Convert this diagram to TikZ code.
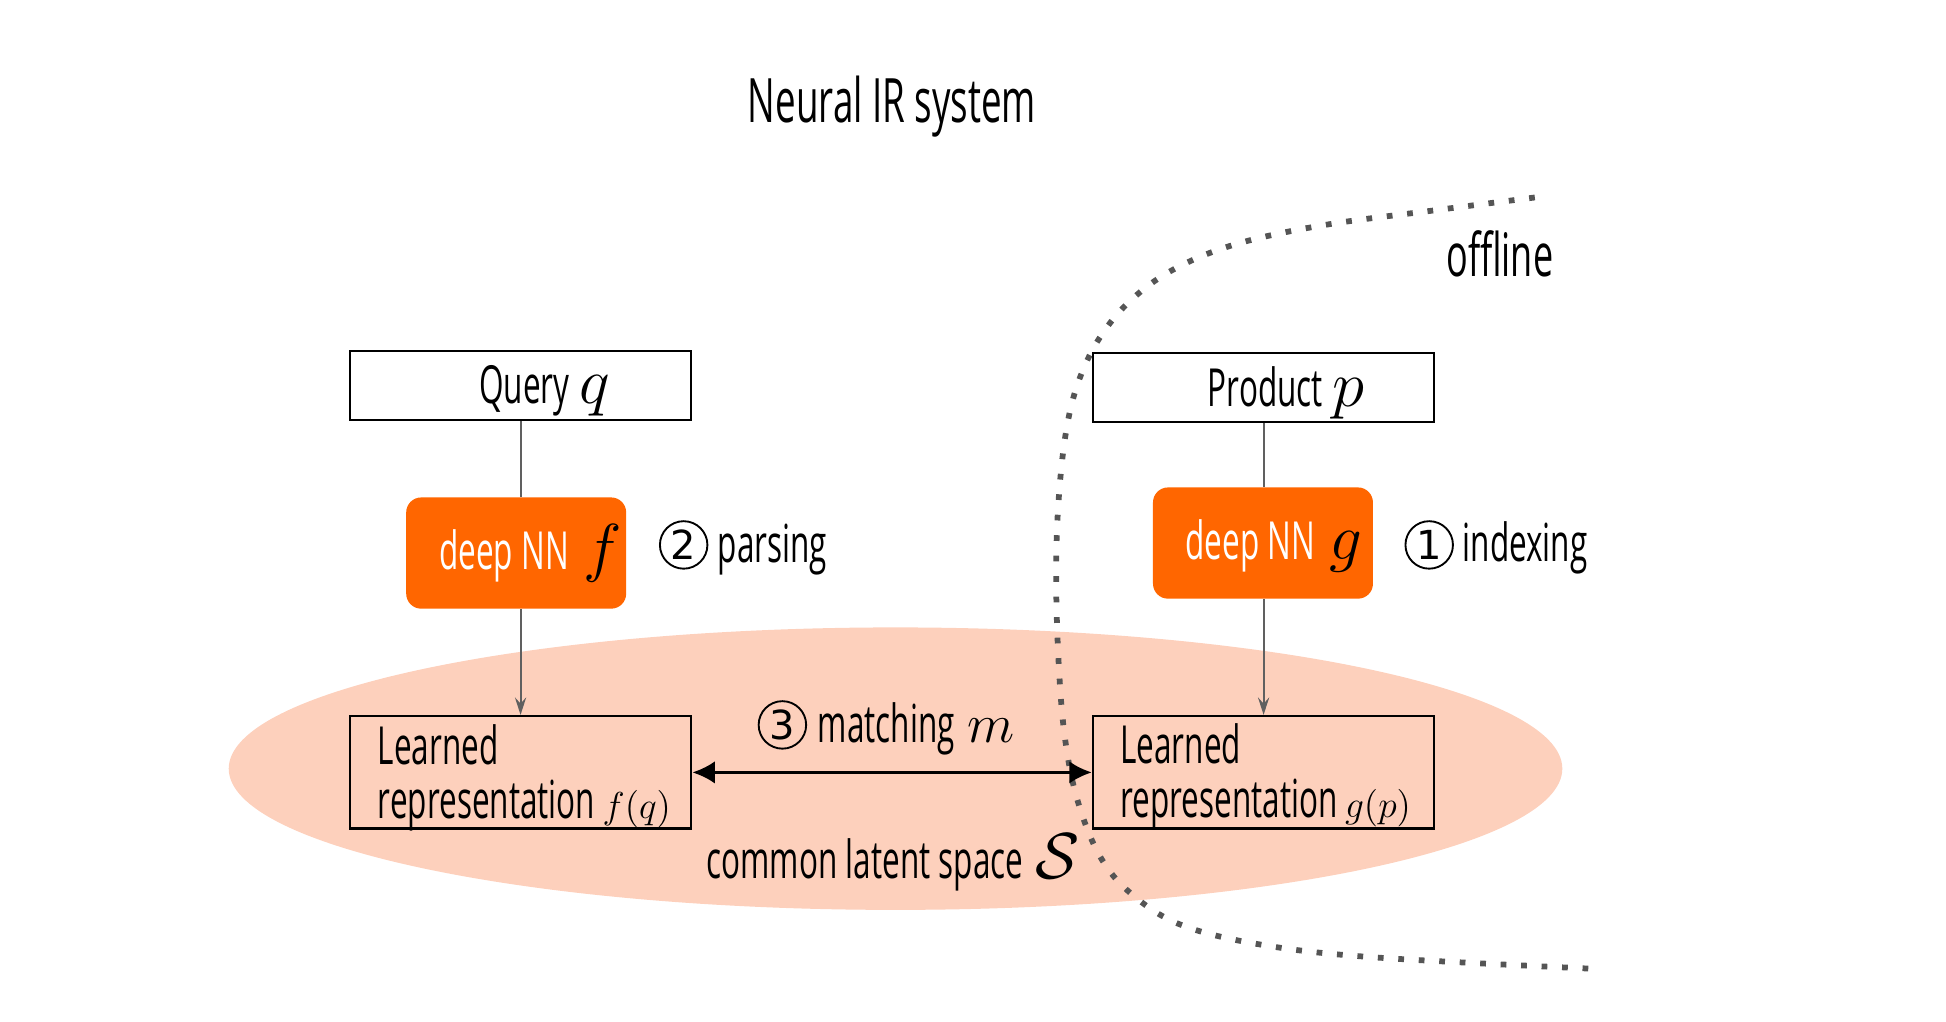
\RequirePackage{fix-cm}
\documentclass[tikz,border=0pt]{standalone}
\usepackage[no-math]{fontspec}
\setmainfont{Open Sans}[FakeStretch=0.6]
\newfontfamily\circfont{DejaVu Sans}
\usetikzlibrary{arrows.meta,shapes.geometric}
\definecolor{nnorange}{RGB}{255,102,0}
\definecolor{peach}{RGB}{253,208,188}
\definecolor{linegray}{RGB}{96,96,96}
\definecolor{dotgray}{RGB}{85,85,85}
\newcommand{\mathbigsym}[1]{{\fontsize{26}{30}\selectfont$#1$}}
\newcommand{\mathsmallsym}[1]{{\fontsize{15}{18}\selectfont$#1$}}
\begin{document}
\begin{tikzpicture}[x=0.5pt,y=-0.5pt,
  txt/.style={font=\fontsize{21}{25}\selectfont, inner sep=0pt, anchor=base west},
  circnum/.style={circle, draw=black, line width=0.75pt, minimum size=19pt, inner sep=0pt, font=\circfont\fontsize{16}{18}\selectfont},
  box/.style={draw=black, line width=1pt, minimum width=136.5pt, minimum height=27.5pt, inner sep=0pt},
  repbox/.style={box, minimum height=45pt},
  nnbox/.style={fill=nnorange, rounded corners=6pt, minimum width=88pt, minimum height=44.5pt, inner sep=0pt},
  flow/.style={draw=linegray, line width=0.8pt},
  flowarrow/.style={flow, -{Stealth[length=7pt,width=4.5pt,inset=2.5pt]}},
  match/.style={draw=black, line width=1.2pt, {Latex[length=9pt,width=9pt]}-{Latex[length=9pt,width=9pt]}},
  dotline/.style={draw=dotgray, line width=2.3pt, dash pattern=on 2.3pt off 5.9pt},
]
\useasboundingbox (0,0) rectangle (1557,817.7);
% latent space
\node[ellipse, fill=peach, minimum width=533.5pt, minimum height=113pt, inner sep=0pt] (space) at (716.5,615) {};
% offline boundary
\draw[dotline] plot[smooth, tension=0.6] coordinates {(1228,158) (1150,168) (1060,180) (990,195) (940,215) (905,240) (880,270) (863,305) (853,345) (847,400) (845,460) (847,530) (852,590) (862,640) (880,685) (905,715) (945,740) (1010,756) (1100,766) (1272,775)};
% boxes
\node[box] (query) at (416.5,308.5) {};
\node[box] (product) at (1011,310) {};
\node[nnbox] (nnf) at (413,442.5) {};
\node[nnbox] (nng) at (1010.5,434.5) {};
\node[repbox] (repq) at (416.5,618) {};
\node[repbox] (repp) at (1011,618) {};
% texts
\node[txt, font=\fontsize{24.5}{29}\selectfont] (title) at (598,98) {Neural IR system};
\node[txt, font=\fontsize{24}{28}\selectfont] (offline) at (1157,221) {offline};
\node[txt] (querytxt) at (383,323) {Query\hspace{4pt}\mathbigsym{q}};
\node[txt] (producttxt) at (966,325) {Product\hspace{4pt}\mathbigsym{p}};
\node[txt, text=white] (nnftxt) at (351,456) {deep NN\hspace{6pt}{\color{black}\mathbigsym{f}}};
\node[txt, text=white] (nngtxt) at (948,448) {deep NN\hspace{6pt}{\color{black}\mathbigsym{g}}};
\node[circnum] (c2) at (547,436) {2};
\node[txt] (parsing) at (574,450) {parsing};
\node[circnum] (c1) at (1143.5,436) {1};
\node[txt] (indexing) at (1170,449) {indexing};
\node[circnum] (c3) at (626,580) {3};
\node[txt] (matching) at (654,594) {matching\hspace{5pt}{\fontsize{22}{26}\selectfont$m$}};
\node[txt] (common) at (565,703) {common latent space\hspace{5pt}\mathbigsym{\mathcal{S}}};
\node[txt] (lq1) at (302,612) {Learned};
\node[txt] (lq2) at (302,655) {representation\hspace{3pt}\mathsmallsym{f(q)}};
\node[txt] (lp1) at (896,611) {Learned};
\node[txt] (lp2) at (896,654) {representation\hspace{3pt}\mathsmallsym{g(p)}};
% connectors
\draw[flow] (query.south) -- (query.south |- nnf.north);
\draw[flowarrow] (query.south |- nnf.south) -- (repq.north);
\draw[flow] (product.south) -- (product.south |- nng.north);
\draw[flowarrow] (product.south |- nng.south) -- (repp.north);
\draw[match] (repq.east) -- (repp.west);
\end{tikzpicture}
\end{document}
